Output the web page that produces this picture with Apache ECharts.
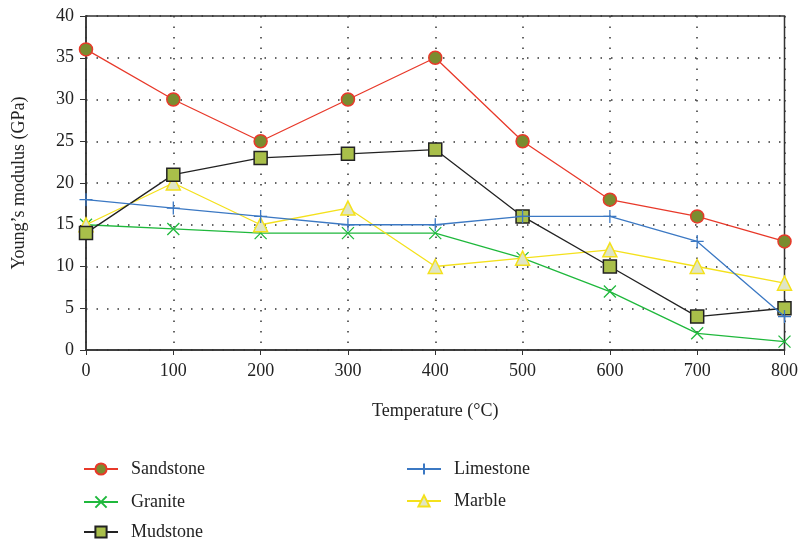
<!DOCTYPE html>
<html><head><meta charset="utf-8">
<script src="https://cdn.jsdelivr.net/npm/echarts@6/dist/echarts.min.js"></script>
<style>html,body{margin:0;padding:0;background:#fff}#c{width:801px;height:545px}</style>
</head><body><div id="c"></div>
<script>
var temperatures = [0, 100, 200, 300, 400, 500, 600, 700, 800];
var sandstone = [36, 30, 25, 30, 35, 25, 18, 16, 13];
var granite   = [15, 14.5, 14, 14, 14, 11, 7, 2, 1];
var mudstone  = [14, 21, 23, 23.5, 24, 16, 10, 4, 5];
var limestone = [18, 17, 16, 15, 15, 16, 16, 13, 4];
var marble    = [15, 20, 15, 17, 10, 11, 12, 10, 8];
var seriesNames = ['Sandstone', 'Granite', 'Mudstone', 'Limestone', 'Marble'];

function pts(arr){ return temperatures.map(function(t,i){ return [t, arr[i]]; }); }
var FONT = '"Liberation Serif", "DejaVu Serif", serif';
var crossX = 'path://M0,0L10,10M10,0L0,10';
var plus = 'path://M5,0L5,10M0,5L10,5';

var legendPos = [[78, 455], [78, 488], [78, 518], [401, 455], [401, 487]];
var legends = seriesNames.map(function(n, i){
  return {data: [n], left: legendPos[i][0], top: legendPos[i][1], itemWidth: 34, itemHeight: 14,
    textStyle: {fontFamily: FONT, fontSize: 18, color: '#222', padding: [0,0,0,8]}};
});

var chart = echarts.init(document.getElementById('c'), null, {renderer:'canvas'});
chart.setOption({
  animation: false,
  backgroundColor: '#fff',
  textStyle: {fontFamily: FONT},
  grid: {left: 86, right: 15, top: 16, bottom: 195, show: true, borderColor: '#333', borderWidth: 1.5, backgroundColor: 'transparent'},
  legend: legends,
  xAxis: {
    type: 'value', min: 0, max: 800, interval: 100,
    name: 'Temperature (°C)', nameLocation: 'middle', nameGap: 52,
    nameTextStyle: {fontFamily: FONT, fontSize: 18, color: '#222'},
    axisLine: {lineStyle: {color: '#333', width: 1.5}},
    axisTick: {show: true, inside: false, length: 5, lineStyle: {color: '#333'}},
    axisLabel: {fontFamily: FONT, fontSize: 18, color: '#222', margin: 12},
    splitLine: {show: true, lineStyle: {color: '#333', type: [1.5, 9], width: 1.5}}
  },
  yAxis: {
    type: 'value', min: 0, max: 40, interval: 5,
    name: 'Young\u2019s modulus (GPa)', nameLocation: 'middle', nameGap: 58,
    nameTextStyle: {fontFamily: FONT, fontSize: 18, color: '#222'},
    axisLine: {show: true, lineStyle: {color: '#333', width: 1.5}},
    axisTick: {show: true, inside: false, length: 6, lineStyle: {color: '#333'}},
    axisLabel: {fontFamily: FONT, fontSize: 18, color: '#222', margin: 12},
    splitLine: {show: true, lineStyle: {color: '#333', type: [1.5, 9], width: 1.5}}
  },
  series: [
    {name: 'Sandstone', type: 'line', data: pts(sandstone), symbol: 'circle', symbolSize: 13,
     lineStyle: {color: '#e8392a', width: 1.3}, itemStyle: {color: '#7a8c2f', borderColor: '#e8392a', borderWidth: 1.5}, z: 5},
    {name: 'Granite', type: 'line', data: pts(granite), symbol: crossX, symbolSize: 12,
     lineStyle: {color: '#1fb83c', width: 1.3}, itemStyle: {color: 'rgba(0,0,0,0)', borderColor: '#1fb83c', borderWidth: 1.3}, z: 3},
    {name: 'Mudstone', type: 'line', data: pts(mudstone), symbol: 'rect', symbolSize: 13,
     lineStyle: {color: '#222', width: 1.3}, itemStyle: {color: '#a9bf4a', borderColor: '#222', borderWidth: 1.5}, z: 6},
    {name: 'Limestone', type: 'line', data: pts(limestone), symbol: plus, symbolSize: 13,
     lineStyle: {color: '#3b78c3', width: 1.3}, itemStyle: {color: 'rgba(0,0,0,0)', borderColor: '#3b78c3', borderWidth: 1.3}, z: 7},
    {name: 'Marble', type: 'line', data: pts(marble), symbol: 'triangle', symbolSize: 14,
     lineStyle: {color: '#f4e11c', width: 1.3}, itemStyle: {color: '#dfe5c6', borderColor: '#f4e11c', borderWidth: 1.5}, z: 4}
  ]
});
</script></body></html>
